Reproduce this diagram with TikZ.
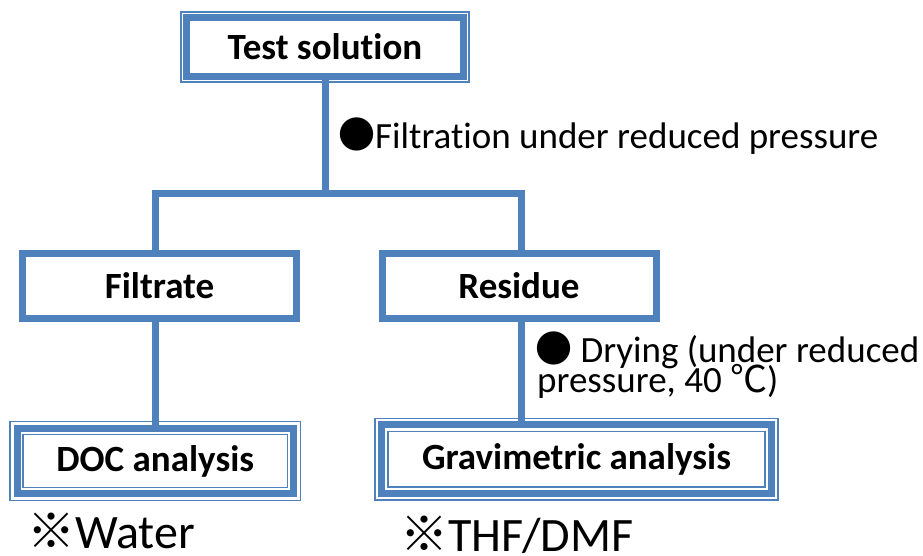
\documentclass[tikz,border=0pt]{standalone}
\usepackage{fontspec}
\setmainfont{Carlito}[Ligatures=CommonOff]
\newfontfamily\cjkfont{Noto Sans CJK JP}
\usetikzlibrary{positioning,fit}
\definecolor{boxblue}{RGB}{79,129,189}
\tikzset{
  stepbox/.style={draw=boxblue,line width=7pt,fill=white,minimum width=274pt,minimum height=65pt,
    inner sep=0pt,outer sep=0pt,font=\fontsize{37}{40}\selectfont\bfseries},
  thinframe/.style={draw=boxblue,line width=1.5pt,inner sep=#1,outer sep=0pt},
  link/.style={draw=boxblue,line width=7pt},
  note/.style={inner sep=0pt,anchor=base west,font=\fontsize{37}{30}\selectfont},
  solvent/.style={inner sep=0pt,anchor=base west,font=\fontsize{48}{48}\selectfont},
}
\begin{document}
\begin{tikzpicture}[x=1pt,y=-1pt]
\useasboundingbox (0,0) rectangle (923,555);
% boxes
\node[stepbox,minimum width=277pt,minimum height=59pt] (test) at (325,47) {Test solution};
\node[thinframe=5.5pt,fit=(test)] (testframe) {};
\node[stepbox] (filtrate) at (159.5,285.5) {Filtrate};
\node[stepbox] (residue) at (519,285.5) {Residue};
\node[stepbox,minimum width=276.5pt] (doc) at (155.25,461) {DOC analysis};
\node[thinframe=7pt,fit=(doc)] (docout) {};
\node[thinframe=-6pt,fit=(doc)] (docin) {};
\node[stepbox,minimum width=390pt,minimum height=68.5pt] (grav) at (576.5,459) {Gravimetric analysis};
\node[thinframe=6.5pt,fit=(grav)] (gravout) {};
\node[thinframe=-6.5pt,fit=(grav)] (gravin) {};
% connectors
\coordinate (splitL) at (155,193.5);
\coordinate (splitR) at (521,193.5);
\draw[link] (test.south) -- (test.south |- splitL);
\draw[link] (splitL |- filtrate.north) -- (splitL) -- (splitR) -- (splitR |- residue.north);
\draw[link] (splitL |- filtrate.south) -- (splitL |- doc.north);
\draw[link] (splitR |- residue.south) -- (splitR |- grav.north);
% notes
\node[note] (filtration) at (338,148) {{\cjkfont ●}Filtration under reduced pressure};
\node[note] (drying) at (535,362) {{\cjkfont ●} Drying (under reduced};
\node[note] (drying2) at (537,392) {pressure, 40 {\cjkfont ℃})};
\node[solvent] (water) at (27,548) {{\cjkfont ※}Water};
\node[solvent] (thf) at (400,551) {{\cjkfont ※}THF/DMF};
\end{tikzpicture}
\end{document}
